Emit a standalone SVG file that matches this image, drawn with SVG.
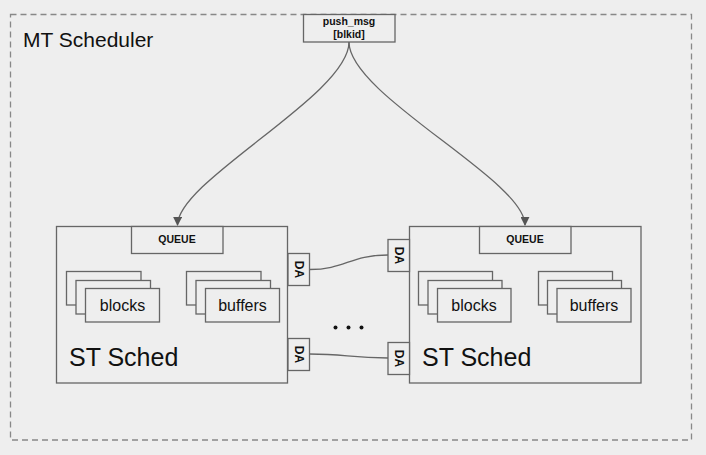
<svg xmlns="http://www.w3.org/2000/svg" width="706" height="455" viewBox="0 0 706 455">
<style>
.box{fill:#eeeeee;stroke:#666666;stroke-width:1.3}
.t{font-family:"Liberation Sans",Arial,sans-serif;fill:#111111}
.b{font-weight:bold}
.con{fill:none;stroke:#666666;stroke-width:1.3}
</style>
<defs>
<marker id="arr" viewBox="0 0 10 10" refX="9" refY="5" markerWidth="9" markerHeight="9" markerUnits="userSpaceOnUse" orient="auto">
<path d="M0,0 L10,5 L0,10 Z" fill="#555555"/>
</marker>
</defs>
<rect x="0" y="0" width="706" height="455" fill="#eeeeee"/>
<g id="mt">
<rect x="10.5" y="14.5" width="681" height="425.5" fill="none" stroke="#888888" stroke-width="1.3" stroke-dasharray="6,4"/>
<text class="t" x="23" y="47" font-size="21">MT Scheduler</text>
</g>
<g id="st-left">
<rect class="box" x="56.5" y="226.5" width="231" height="156.5"/>
<text class="t" x="69" y="366" font-size="25">ST Sched</text>
</g>
<g id="queue-left">
<rect class="box" x="131.5" y="226.5" width="91.5" height="27"/>
<text class="t b" x="177" y="243" font-size="10.5" text-anchor="middle">QUEUE</text>
</g>
<g id="blocks-left">
<rect class="box" x="66.5" y="271.5" width="74.5" height="33.5"/>
<rect class="box" x="76" y="280.5" width="74.5" height="33.5"/>
<rect class="box" x="85.5" y="288.5" width="74" height="33.5"/>
<text class="t" x="122.5" y="311" font-size="16" text-anchor="middle">blocks</text>
</g>
<g id="buffers-left">
<rect class="box" x="186.5" y="271.5" width="74.5" height="33.5"/>
<rect class="box" x="196" y="280.5" width="74.5" height="33.5"/>
<rect class="box" x="205.5" y="288.5" width="74" height="33.5"/>
<text class="t" x="242.5" y="311" font-size="16" text-anchor="middle">buffers</text>
</g>
<g id="st-right">
<rect class="box" x="409.5" y="226.5" width="231.5" height="156.5"/>
<text class="t" x="422" y="366" font-size="25">ST Sched</text>
</g>
<g id="queue-right">
<rect class="box" x="479.5" y="226.5" width="91.5" height="27"/>
<text class="t b" x="525" y="243" font-size="10.5" text-anchor="middle">QUEUE</text>
</g>
<g id="blocks-right">
<rect class="box" x="418.5" y="271.5" width="74" height="33.5"/>
<rect class="box" x="428" y="280.5" width="74" height="33.5"/>
<rect class="box" x="437.5" y="288.5" width="73.5" height="33.5"/>
<text class="t" x="474" y="311" font-size="16" text-anchor="middle">blocks</text>
</g>
<g id="buffers-right">
<rect class="box" x="538.5" y="271.5" width="74" height="33.5"/>
<rect class="box" x="547.5" y="280.5" width="74" height="33.5"/>
<rect class="box" x="557" y="288.5" width="74" height="33.5"/>
<text class="t" x="594" y="311" font-size="16" text-anchor="middle">buffers</text>
</g>
<g id="push">
<rect class="box" x="303.5" y="14.5" width="91.5" height="27.5"/>
<text class="t b" x="349" y="25" font-size="10.5" text-anchor="middle">push_msg</text>
<text class="t b" x="349" y="38" font-size="10.5" text-anchor="middle">[blkid]</text>
</g>
<g id="da-l1">
<rect class="box" x="288" y="253.5" width="21.5" height="32"/>
<text class="t b" x="0" y="0" font-size="12" text-anchor="middle" transform="translate(294.5,269.5) rotate(90)">DA</text>
</g>
<g id="da-l2">
<rect class="box" x="288" y="338.5" width="21.5" height="32"/>
<text class="t b" x="0" y="0" font-size="12" text-anchor="middle" transform="translate(294.5,354.5) rotate(90)">DA</text>
</g>
<g id="da-r1">
<rect class="box" x="388" y="239.5" width="21.5" height="32"/>
<text class="t b" x="0" y="0" font-size="12" text-anchor="middle" transform="translate(394.5,255.5) rotate(90)">DA</text>
</g>
<g id="da-r2">
<rect class="box" x="388" y="342.5" width="21.5" height="32"/>
<text class="t b" x="0" y="0" font-size="12" text-anchor="middle" transform="translate(394.5,358.5) rotate(90)">DA</text>
</g>
<g id="dots" fill="#111111">
<circle cx="335.5" cy="327.5" r="2"/>
<circle cx="348.5" cy="327.5" r="2"/>
<circle cx="361.5" cy="327.5" r="2"/>
</g>
<g id="connectors">
<path class="con" d="M349,42 C349,95 178,180 177.5,225" marker-end="url(#arr)"/>
<path class="con" d="M349,42 C349,95 525,180 525,225" marker-end="url(#arr)"/>
<path class="con" d="M309.5,269.5 C345,269.5 350,255 388,255"/>
<path class="con" d="M309.5,354 C345,354 350,358 388,358"/>
</g>
</svg>
